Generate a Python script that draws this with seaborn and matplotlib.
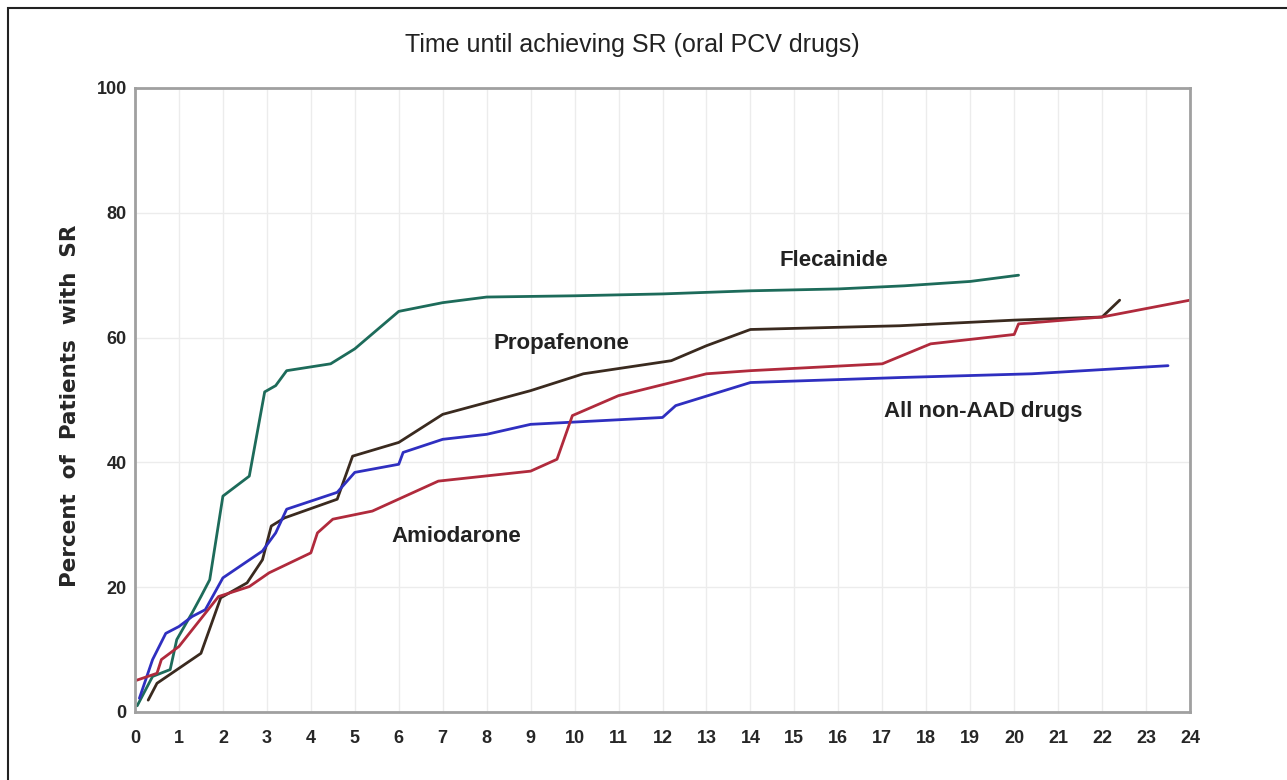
import matplotlib
matplotlib.use("Agg")
import matplotlib.pyplot as plt
import matplotlib.patches as mpatches
import seaborn as sns
import pandas as pd

# ---- data ----
flec_x = [0.05, 0.4, 0.8, 0.95, 1.3, 1.5, 1.7, 2.0, 2.6, 2.95, 3.2, 3.45, 4.45, 5.0, 6.0, 7.0, 8.0, 10, 12, 14, 16, 17.5, 19, 20.1]
flec_y = [1, 5.7, 6.8, 11.6, 15.9, 18.5, 21.2, 34.6, 37.8, 51.3, 52.3, 54.7, 55.8, 58.2, 64.2, 65.6, 66.5, 66.7, 67, 67.5, 67.8, 68.3, 69, 70]

amio_x = [0, 0.5, 0.6, 1.0, 1.9, 2.6, 3.05, 4.0, 4.15, 4.5, 5.4, 6.9, 9.0, 9.6, 9.95, 11, 13, 14, 17, 18.1, 20, 20.1, 22, 24]
amio_y = [5, 6.2, 8.4, 10.5, 18.5, 20.1, 22.3, 25.5, 28.7, 30.9, 32.2, 37.0, 38.6, 40.5, 47.5, 50.7, 54.2, 54.7, 55.8, 59, 60.5, 62.2, 63.3, 66]

prop_x = [0.3, 0.5, 1.5, 1.95, 2.55, 2.9, 3.1, 3.4, 4.6, 4.95, 6.0, 7.0, 9.0, 10.2, 12.2, 13.0, 14.0, 17.4, 20, 22, 22.4]
prop_y = [1.9, 4.6, 9.4, 18.3, 20.7, 24.4, 29.8, 31.1, 34.1, 41.0, 43.2, 47.7, 51.5, 54.2, 56.3, 58.7, 61.3, 61.9, 62.8, 63.3, 66]

nonaad_x = [0.1, 0.4, 0.7, 1.0, 1.3, 1.6, 2.0, 2.9, 3.2, 3.45, 4.6, 5.0, 6.0, 6.1, 7.0, 8.0, 9.0, 12.0, 12.3, 14, 17.4, 20.4, 23.5]
nonaad_y = [2.2, 8.4, 12.6, 13.7, 15.3, 16.4, 21.5, 25.8, 28.7, 32.5, 35.2, 38.4, 39.7, 41.6, 43.7, 44.5, 46.1, 47.2, 49.1, 52.8, 53.6, 54.2, 55.5]

series_names = ["Flecainide", "Propafenone", "All non-AAD drugs", "Amiodarone"]
series_colors = ["#1d6b5a", "#3a2a1f", "#2f2fc0", "#b02a3c"]
label_pos_x = [15.9, 9.7, 19.3, 7.3]
label_pos_y = [72.3, 59.0, 48.2, 28.1]

x_ticks = list(range(0, 25))
y_ticks = [0, 20, 40, 60, 80, 100]
title_text = "Time until achieving SR (oral PCV drugs)"
ylabel_text = "Percent  of  Patients  with  SR"

frames = []
for name, xs, ys in [("Flecainide", flec_x, flec_y),
                     ("Propafenone", prop_x, prop_y),
                     ("All non-AAD drugs", nonaad_x, nonaad_y),
                     ("Amiodarone", amio_x, amio_y)]:
    frames.append(pd.DataFrame({"time": xs, "pct": ys, "drug": name}))
df = pd.concat(frames, ignore_index=True)

sns.set_style("white")
plt.rcParams["font.family"] = ["Liberation Sans", "DejaVu Sans"]

fig = plt.figure(figsize=(12.87, 7.8), dpi=100)
ax = fig.add_axes([135 / 1287, 1 - 712 / 780, (1190 - 135) / 1287, (712 - 88) / 780])

sns.lineplot(data=df, x="time", y="pct", hue="drug", hue_order=series_names,
             palette=dict(zip(series_names, series_colors)), estimator=None,
             sort=False, linewidth=2.0, legend=False, ax=ax)

ax.set_xlim(0, 24)
ax.set_ylim(0, 100)
ax.set_xticks(x_ticks)
ax.set_yticks(y_ticks)
ax.set_xticklabels([str(t) for t in x_ticks], fontsize=13, fontweight="bold")
ax.set_yticklabels([str(t) for t in y_ticks], fontsize=13, fontweight="bold")
ax.grid(True, color="#ececec", linewidth=1.0)
ax.set_axisbelow(True)
for sp in ax.spines.values():
    sp.set_color("#a0a0a0")
    sp.set_linewidth(2.0)
    sp.set_visible(True)
ax.tick_params(axis="x", direction="out", length=7, width=1, color="#555555", pad=6)
ax.tick_params(axis="y", length=0, pad=6)
ax.set_xlabel("")
ax.set_ylabel(ylabel_text, fontsize=15.5, fontweight="bold", family=["DejaVu Sans"])
ax.yaxis.set_label_coords(-0.052, 0.49)

for name, lx, ly in zip(series_names, label_pos_x, label_pos_y):
    ax.text(lx, ly, name, fontsize=16, fontweight="bold", color="#222222",
            ha="center", va="center")

fig.text(632 / 1287, 1 - 45 / 780, title_text, fontsize=18, ha="center", va="center", color="#222222")

rect = mpatches.Rectangle((8 / 1287, -0.1), 1.2, 1.1 - 8 / 780, transform=fig.transFigure,
                          fill=False, edgecolor="#222222", linewidth=1.5, clip_on=False)
fig.add_artist(rect)

fig.savefig("out.png", dpi=100)
